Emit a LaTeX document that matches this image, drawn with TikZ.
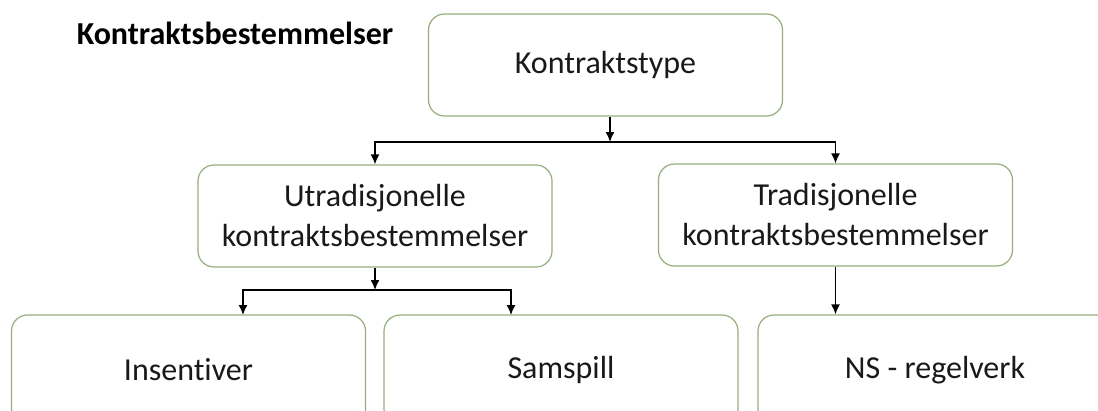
\documentclass[tikz,border=0pt]{standalone}
\usepackage{fontspec}
\setmainfont[Ligatures=NoCommon]{Carlito}
\usetikzlibrary{arrows.meta,positioning}
\definecolor{boxline}{RGB}{150,175,125}
\definecolor{ink}{RGB}{25,25,25}
\tikzset{
  box/.style={draw=boxline, line width=1.2pt, rounded corners=16pt, fill=white,
    minimum width=354pt, minimum height=102pt, inner sep=0pt, align=center,
    text=ink, font=\fontsize{32}{40}\selectfont},
  lowbox/.style={box, minimum height=110pt},
  arr/.style={-{Latex[length=10pt,width=9pt]}, line width=1.5pt, draw=black},
  title/.style={font=\fontsize{32}{36}\selectfont\bfseries, text=black, anchor=base}
}
\begin{document}
\begin{tikzpicture}[x=1pt,y=-1pt]
  \useasboundingbox (0,0) rectangle (1098,410);
  \clip (0,0) rectangle (1098,410);
  \fill[white] (0,0) rectangle (1098,410);

  \node[title] (head) at (235,44) {Kontraktsbestemmelser};

  % hierarchy boxes
  \node[box] (top)  at (605.5,65) {Kontraktstype};
  \node[box] (utr)  at (375,216) {Utradisjonelle\\kontraktsbestemmelser};
  \node[box] (trad) at (835.5,215) {Tradisjonelle\\kontraktsbestemmelser};
  \node[lowbox] (ins) at (188.5,370) {Insentiver};
  \node[lowbox] (sam) at (561,370) {Samspill};
  \node[lowbox] (ns)  at (935,370) {NS - regelverk};

  % junction points of the branching connectors
  \coordinate (j1) at (610,142);
  \coordinate (j2) at (375,290);
  \coordinate (e1) at (243,315);
  \coordinate (e2) at (511,315);

  \draw[arr] (top.south -| j1) -- (j1);
  \draw[arr] (j1) -| (utr.north);
  \draw[arr] (j1) -| (trad.north);

  \draw[arr] (utr.south) -- (j2);
  \draw[arr] (j2) -| (e1);
  \draw[arr] (j2) -| (e2);

  \draw[arr] (trad.south) -- (trad.south |- ns.north);
\end{tikzpicture}
\end{document}
